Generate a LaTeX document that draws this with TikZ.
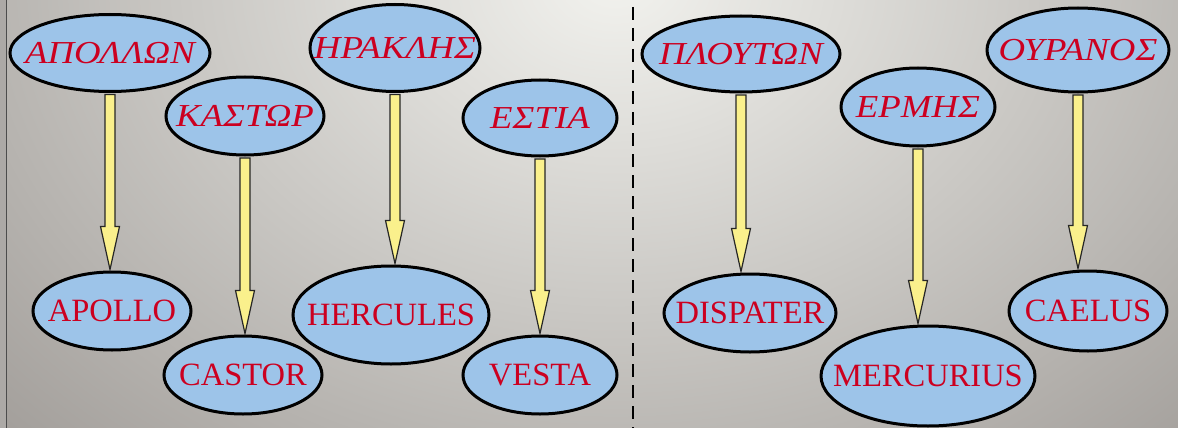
\documentclass[tikz,border=0pt]{standalone}
\usepackage{fontspec}
\setmainfont{Liberation Serif}
\newfontfamily\greekwide{Liberation Serif}[FakeStretch=1.15]
\usetikzlibrary{shapes.geometric,calc}

\definecolor{godblue}{RGB}{157,196,233}
\definecolor{godred}{RGB}{204,0,32}
\definecolor{shaftyellow}{RGB}{250,240,140}
\definecolor{bglight}{RGB}{242,242,238}
\definecolor{bgdark}{RGB}{162,158,154}
\definecolor{edgegray}{RGB}{172,169,166}

\pgfdeclareradialshading{slideglow}{\pgfpoint{0bp}{0bp}}{%
  color(0bp)=(bglight); color(25bp)=(bgdark); color(50bp)=(bgdark)}

% vertical block arrow from the bottom of one ellipse to the top of another
\newcommand\descent[2]{%
  \draw[fatarrow] let \p1=(#1.south), \p2=(#2.north) in
    (\x1-5pt,\y1-1.5pt) -- (\x1-5pt,\y2+44pt) -- (\x1-9.5pt,\y2+44pt)
    -- (\x1,\y2+1pt) -- (\x1+9.5pt,\y2+44pt) -- (\x1+5pt,\y2+44pt)
    -- (\x1+5pt,\y1-1.5pt) -- cycle;}

% label whose width does not enlarge the ellipse
\newcommand\nm[1]{\makebox[0pt]{#1}}

\begin{document}
\begin{tikzpicture}[x=1pt,y=-1pt,
  god/.style={ellipse, draw=black, line width=3pt, fill=godblue,
    inner sep=0pt, text=godred, font=\fontsize{32.5}{36}\selectfont},
  greek/.style={god, font=\fontsize{32}{36}\selectfont\greekwide\itshape},
  fatarrow/.style={draw=black!85, line width=1.2pt, fill=shaftyellow,
    line join=miter},
  divider/.style={draw=black, line width=2.6pt, dash pattern=on 13pt off 8pt}]

\useasboundingbox (0,0) rectangle (1178,428);

% slide background
\fill[edgegray] (0,0) rectangle (7,428);
\begin{scope}
  \clip (7,0) rectangle (1178,428);
  \shade[shading=slideglow] (615,-20) ellipse [x radius=860, y radius=660];
\end{scope}
\draw[black!70, line width=1.5pt] (6.5,0) -- (6.5,428);

% divider between the two groups
\coordinate (divtop) at (633,7);
\coordinate (divbot) at (633,428);
\draw[divider] (divtop) -- (divbot);

% Greek names
\node[greek, minimum width=200, minimum height=77] (apollon) at (110,53) {\nm{ΑΠΟΛΛΩΝ}};
\node[greek, minimum width=158, minimum height=78] (kastor) at (245,116) {\nm{ΚΑΣΤΩΡ}};
\node[greek, minimum width=170, minimum height=87] (herakles) at (395,48) {\nm{ΗΡΑΚΛΗΣ}};
\node[greek, minimum width=154, minimum height=76] (hestia) at (540,118) {\nm{ΕΣΤΙΑ}};
\node[greek, minimum width=198, minimum height=76] (plouton) at (741,54) {\nm{ΠΛΟΥΤΩΝ}};
\node[greek, minimum width=154, minimum height=78] (hermes) at (918,107) {\nm{ΕΡΜΗΣ}};
\node[greek, minimum width=182, minimum height=84] (ouranos) at (1078,50) {\nm{ΟΥΡΑΝΟΣ}};

% Latin names
\node[god, minimum width=158, minimum height=78] (apollo) at (112,311) {\nm{APOLLO}};
\node[god, minimum width=158, minimum height=78] (castor) at (243,375) {\nm{CASTOR}};
\node[god, minimum width=196, minimum height=98] (hercules) at (391,315) {\nm{HERCULES}};
\node[god, minimum width=154, minimum height=78] (vesta) at (540,375) {\nm{VESTA}};
\node[god, minimum width=172, minimum height=78] (dispater) at (750,313) {\nm{DISPATER}};
\node[god, minimum width=214, minimum height=100] (mercurius) at (928,376) {\nm{MERCURIUS}};
\node[god, minimum width=158, minimum height=80] (caelus) at (1088,311) {\nm{CAELUS}};

% arrows
\descent{apollon}{apollo}
\descent{kastor}{castor}
\descent{herakles}{hercules}
\descent{hestia}{vesta}
\descent{plouton}{dispater}
\descent{hermes}{mercurius}
\descent{ouranos}{caelus}

\end{tikzpicture}
\end{document}
